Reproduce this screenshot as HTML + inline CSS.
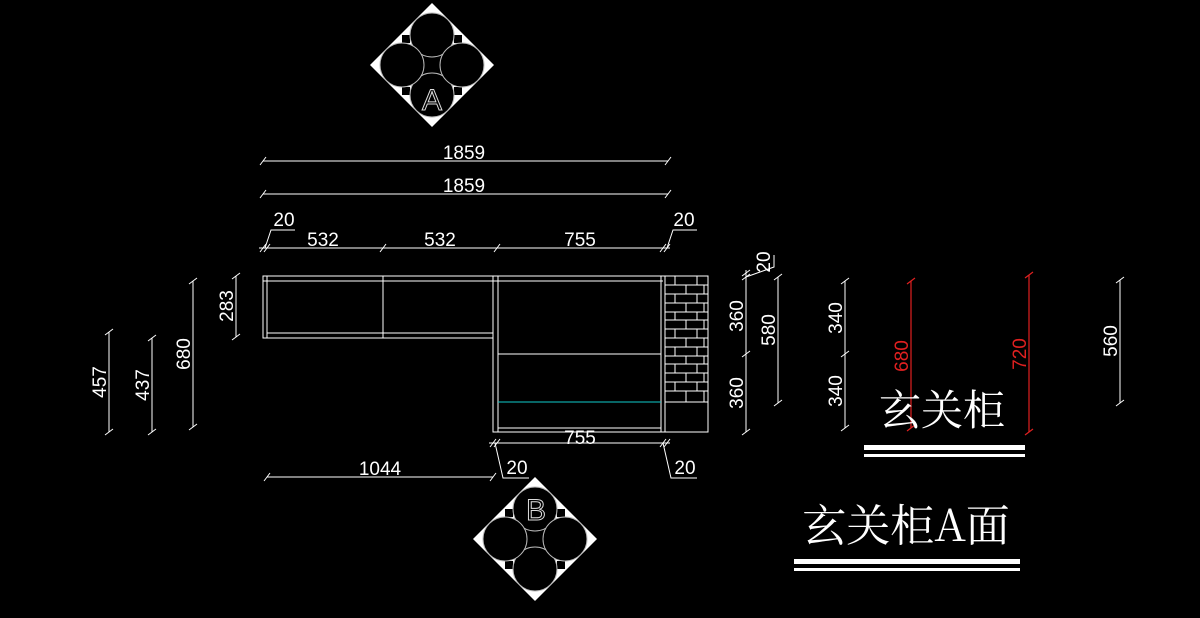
<!DOCTYPE html>
<html><head><meta charset="utf-8"><style>
html,body{margin:0;padding:0;background:#000;width:1200px;height:618px;overflow:hidden}
svg{display:block}
text{font-family:"Liberation Sans","Noto Sans CJK SC",sans-serif;fill:#fff}
</style></head><body>
<svg width="1200" height="618" viewBox="0 0 1200 618" xmlns="http://www.w3.org/2000/svg">
<defs>
<g id="sym">
<polygon points="0,-62 62,0 0,62 -62,0" fill="#fff"/>
<g fill="#000">
<rect x="-30" y="-30" width="8" height="8"/><rect x="22" y="-30" width="8" height="8"/>
<rect x="-30" y="22" width="8" height="8"/><rect x="22" y="22" width="8" height="8"/>
<rect x="-14" y="-14" width="28" height="28"/>
</g>
<g fill="#000" stroke="#bbb" stroke-width="1">
<circle cx="0" cy="-30" r="22"/><circle cx="0" cy="30" r="22"/>
<circle cx="-30" cy="0" r="22"/><circle cx="30" cy="0" r="22"/>
</g>
</g>
</defs>
<use href="#sym" x="432" y="65"/>
<text x="432" y="110" font-size="30" text-anchor="middle" style="fill:none" stroke="#ddd" stroke-width="1">A</text>
<use href="#sym" x="535" y="539"/>
<text x="536" y="520" font-size="30" text-anchor="middle" style="fill:none" stroke="#ddd" stroke-width="1">B</text>

<g stroke="#fff" stroke-width="1" fill="none">
<line x1="263" y1="161" x2="668" y2="161"/><line x1="263" y1="194" x2="668" y2="194"/>
<line x1="259" y1="248" x2="670" y2="248"/>
<path d="M260,165l6,-8M665,165l6,-8M260,198l6,-8M665,198l6,-8"/>
<path d="M260,252l6,-8M264,252l6,-8M380,252l6,-8M494,252l6,-8M660,252l6,-8M664,252l6,-8"/>
<path d="M265,248l6,-18h24M667,248l6,-18h24"/>
<rect x="263" y="276" width="230" height="62"/>
<line x1="267" y1="276" x2="267" y2="338"/>
<line x1="263" y1="281" x2="663" y2="281"/>
<line x1="267" y1="333" x2="493" y2="333"/>
<line x1="383" y1="276" x2="383" y2="338"/>
<rect x="493" y="276" width="215" height="156"/>
<line x1="498" y1="276" x2="498" y2="432"/>
<line x1="661" y1="276" x2="661" y2="432"/>
<line x1="665" y1="276" x2="665" y2="432"/>
<line x1="498" y1="354" x2="661" y2="354"/>
<line x1="498" y1="428" x2="661" y2="428"/>
<line x1="665" y1="402" x2="708" y2="402"/>
<path d="M665,285h43M665,294h43M665,303h43M665,312h43M665,320h43M665,329h43M665,338h43M665,347h43M665,356h43M665,364h43M665,373h43M665,382h43M665,391h43"/>
<path d="M675,276v9M697,276v9M686,285v9M704,285v9M675,294v9M697,294v9M686,303v9M704,303v9M675,312v8M697,312v8M686,320v9M704,320v9M675,329v9M697,329v9M686,338v9M704,338v9M675,347v9M697,347v9M686,356v8M704,356v8M675,364v9M697,364v9M686,373v9M704,373v9M675,382v9M697,382v9M686,391v11M704,391v11"/>
<line x1="489" y1="443" x2="670" y2="443"/>
<path d="M490,447l6,-8M494,447l6,-8M660,447l6,-8M664,447l6,-8"/>
<path d="M495,443l8,35h26M663,443l8,35h26"/>
<line x1="267" y1="477" x2="493" y2="477"/>
<path d="M264,481l6,-8M490,481l6,-8"/>
<line x1="109" y1="332" x2="109" y2="432"/><path d="M105,335l8,-6M105,435l8,-6"/>
<line x1="152" y1="338" x2="152" y2="432"/><path d="M148,341l8,-6M148,435l8,-6"/>
<line x1="193" y1="281" x2="193" y2="427"/><path d="M189,284l8,-6M189,430l8,-6"/>
<line x1="236" y1="276" x2="236" y2="337"/><path d="M232,279l8,-6M232,340l8,-6"/>
<line x1="746" y1="270" x2="746" y2="432"/><path d="M742,280l8,-6M742,276l8,-6M742,357l8,-6M742,435l8,-6"/>
<path d="M746,277l28,-10v-12"/>
<line x1="778" y1="277" x2="778" y2="403"/><path d="M774,280l8,-6M774,406l8,-6"/>
<line x1="845" y1="281" x2="845" y2="428"/><path d="M841,284l8,-6M841,357l8,-6M841,431l8,-6"/>
<line x1="1120" y1="280" x2="1120" y2="403"/><path d="M1116,283l8,-6M1116,406l8,-6"/>
</g>
<line x1="498" y1="402" x2="661" y2="402" stroke="#1cc" stroke-width="1"/>
<g stroke="#e02020" stroke-width="1.2">
<line x1="911" y1="281" x2="911" y2="428"/><path d="M907,284l8,-6M907,431l8,-6"/>
<line x1="1029" y1="275" x2="1029" y2="432"/><path d="M1025,278l8,-6M1025,435l8,-6"/>
</g>

<g font-size="19">
<text x="464" y="159" text-anchor="middle">1859</text>
<text x="464" y="192" text-anchor="middle">1859</text>
<text x="323" y="246" text-anchor="middle">532</text>
<text x="440" y="246" text-anchor="middle">532</text>
<text x="580" y="246" text-anchor="middle">755</text>
<text x="284" y="226" text-anchor="middle">20</text>
<text x="684" y="226" text-anchor="middle">20</text>
<text x="580" y="444" text-anchor="middle">755</text>
<text x="517" y="474" text-anchor="middle">20</text>
<text x="685" y="474" text-anchor="middle">20</text>
<text x="380" y="475" text-anchor="middle">1044</text>
<text transform="translate(106,382) rotate(-90)" text-anchor="middle">457</text>
<text transform="translate(149,385) rotate(-90)" text-anchor="middle">437</text>
<text transform="translate(190,354) rotate(-90)" text-anchor="middle">680</text>
<text transform="translate(233,306) rotate(-90)" text-anchor="middle">283</text>
<text transform="translate(743,316) rotate(-90)" text-anchor="middle">360</text>
<text transform="translate(743,393) rotate(-90)" text-anchor="middle">360</text>
<text transform="translate(775,330) rotate(-90)" text-anchor="middle">580</text>
<text transform="translate(842,318) rotate(-90)" text-anchor="middle">340</text>
<text transform="translate(842,391) rotate(-90)" text-anchor="middle">340</text>
<text transform="translate(908,356) rotate(-90)" text-anchor="middle" style="fill:#e02020">680</text>
<text transform="translate(1026,354) rotate(-90)" text-anchor="middle" style="fill:#e02020">720</text>
<text transform="translate(1117,341) rotate(-90)" text-anchor="middle">560</text>
<text transform="translate(770,262) rotate(-90)" text-anchor="middle">20</text>
</g>
<text x="942" y="425" font-size="42" text-anchor="middle" style="font-family:'Noto Serif CJK SC',serif">玄关柜</text>
<rect x="864" y="445" width="161" height="5" fill="#fff"/>
<rect x="864" y="454" width="161" height="3" fill="#fff"/>
<text x="906" y="541" font-size="44" text-anchor="middle" style="font-family:'Noto Serif CJK SC','Liberation Serif',serif">玄关柜A面</text>
<rect x="794" y="559" width="226" height="5" fill="#fff"/>
<rect x="794" y="568" width="226" height="3" fill="#fff"/>
</svg>
</body></html>
